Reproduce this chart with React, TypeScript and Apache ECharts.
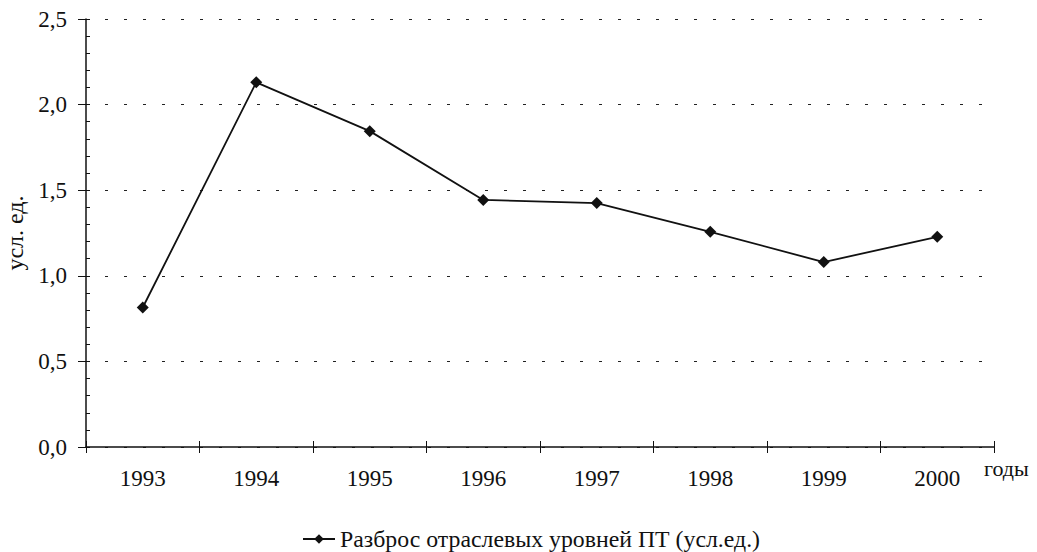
import React, { useEffect, useRef } from "react";
import * as echarts from "echarts";

const years = ["1993", "1994", "1995", "1996", "1997", "1998", "1999", "2000"];
const spread = [0.815, 2.13, 1.845, 1.443, 1.425, 1.257, 1.08, 1.228];
const seriesName = "Разброс отраслевых уровней ПТ (усл.ед.)";
const yName = "усл. ед.";
const xName = "годы";

const FONT = "'Liberation Serif', 'Times New Roman', serif";
const FS = 23;

export default function App() {
  const ref = useRef<HTMLDivElement>(null);
  useEffect(() => {
    const chart = echarts.init(ref.current!, undefined, { renderer: "svg" });
    chart.setOption({
      animation: false,
      backgroundColor: "#ffffff",
      textStyle: { fontFamily: FONT, color: "#111" },
      grid: {
        left: 86,
        right: 43,
        top: 19,
        bottom: 105,
        containLabel: false,
        outerBoundsMode: "none",
      },
      legend: {
        data: [seriesName],
        left: 302,
        top: 527,
        padding: 0,
        itemWidth: 32,
        itemHeight: 12,
        itemGap: 6,
        textStyle: { fontFamily: FONT, fontSize: 23.8, color: "#111" },
      },
      graphic: [
        {
          type: "text",
          left: 984,
          top: 457,
          style: { text: xName, fontFamily: FONT, fontSize: 22, fill: "#111" },
        },
      ],
      xAxis: [
        {
          type: "category",
          data: years,
          boundaryGap: true,
          axisLine: { show: true, lineStyle: { color: "#111", width: 1.5 } },
          axisTick: { show: true, length: 6, lineStyle: { color: "#111", width: 1 } },
          axisLabel: { fontFamily: FONT, fontSize: FS, color: "#111", margin: 20 },
          splitLine: { show: false },
        },
        {
          type: "category",
          data: years,
          position: "bottom",
          boundaryGap: true,
          axisLine: { show: false },
          axisTick: { show: true, inside: true, length: 6, lineStyle: { color: "#111", width: 1 } },
          axisLabel: { show: false },
          splitLine: { show: false },
        },
      ],
      yAxis: [
        {
          type: "value",
          min: 0,
          max: 2.5,
          interval: 0.5,
          name: yName,
          nameLocation: "middle",
          nameGap: 58,
          nameRotate: 90,
          nameTextStyle: { fontFamily: FONT, fontSize: 24, color: "#111" },
          axisLine: { show: true, lineStyle: { color: "#111", width: 1.5 } },
          axisTick: { show: true, length: 8, lineStyle: { color: "#111", width: 1 } },
          axisLabel: {
            fontFamily: FONT,
            fontSize: FS,
            color: "#111",
            margin: 19,
            formatter: (v: number) => v.toFixed(1).replace(".", ","),
          },
          splitLine: {
            show: true,
            lineStyle: { color: "#222", width: 1, type: [3, 16] },
          },
        },
        {
          type: "value",
          min: 0,
          max: 2.5,
          interval: 0.1,
          position: "left",
          offset: 0,
          axisLine: { show: false },
          axisTick: { show: true, inside: true, length: 4, lineStyle: { color: "#111", width: 1 } },
          axisLabel: { show: false },
          splitLine: { show: false },
        },
      ],
      series: [
        {
          name: seriesName,
          type: "line",
          data: spread,
          xAxisIndex: 0,
          yAxisIndex: 0,
          symbol: "diamond",
          symbolSize: 12,
          lineStyle: { color: "#111", width: 1.8 },
          itemStyle: { color: "#111" },
        },
      ],
    });
    return () => chart.dispose();
  }, []);
  return (
    <div
      ref={ref}
      style={{ position: "absolute", left: 0, top: 0, width: 1037, height: 552 }}
    />
  );
}
